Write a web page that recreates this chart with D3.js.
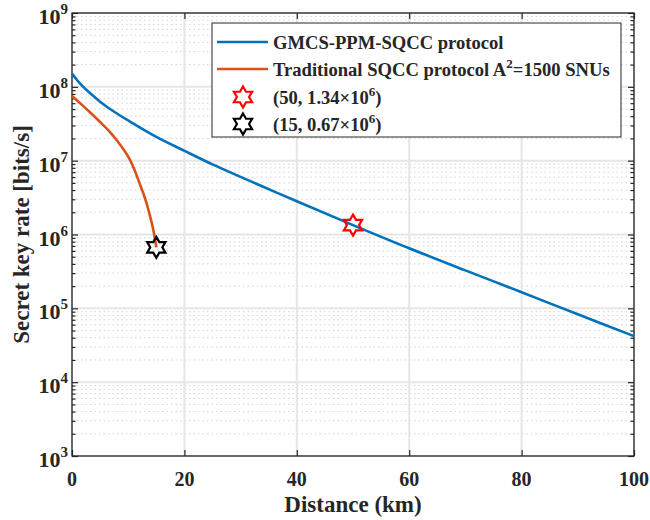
<!DOCTYPE html>
<html>
<head>
<meta charset="utf-8">
<script src="https://cdn.jsdelivr.net/npm/d3@7"></script>
<style>
  body { margin: 0; background: #fff; }
  svg text { font-family: "Liberation Serif", "Times New Roman", serif; font-weight: bold; fill: #262626; }
</style>
</head>
<body>
<div id="chart"></div>
<script>
// GMCS-PPM-SQCC protocol (blue)
var blueX = [0, 1, 2, 3, 5, 7.5, 10, 15, 20, 25, 30, 40, 50, 60, 70, 80, 90, 100];
var blueY = [1.51e8, 1.21e8, 1.0e8, 8.5e7, 6.3e7, 4.6e7, 3.5e7, 2.1e7, 1.36e7, 8.9e6, 6.03e6, 2.82e6, 1.34e6, 6.5e5, 3.27e5, 1.65e5, 8.3e4, 4.2e4];

// Traditional SQCC protocol (orange)
var redX = [0, 1.5, 3.2, 5, 6.8, 8, 9.4, 10.3, 11.2, 12, 12.7, 13.3, 13.9, 14.3, 14.5, 14.8, 15];
var redY = [7.52e7, 5.94e7, 4.52e7, 3.34e7, 2.42e7, 1.88e7, 1.34e7, 1.03e7, 7.24e6, 5.0e6, 3.59e6, 2.6e6, 1.76e6, 1.32e6, 1.12e6, 8.4e5, 6.7e5];

// marked points
var markX = [50, 15];
var markY = [1.34e6, 0.67e6];
var markColors = ["#ff0000", "#000000"];

var xTicks = [0, 20, 40, 60, 80, 100];
var yDecades = [3, 4, 5, 6, 7, 8, 9];

var legendLabels = ["GMCS-PPM-SQCC protocol", "Traditional SQCC protocol A", "(50, 1.34\u00d710", "(15, 0.67\u00d710"];

var width = 650, height = 520;
var margin = {top: 13, right: 16, bottom: 64, left: 72};

var svg = d3.select("#chart").append("svg")
    .attr("width", width)
    .attr("height", height);

var x = d3.scaleLinear().domain([0, 100]).range([margin.left, width - margin.right]);
var y = d3.scaleLog().domain([1e3, 1e9]).range([height - margin.bottom, margin.top]);

// minor values for log grid
var minorVals = [];
yDecades.slice(0, -1).forEach(function(e) {
    for (var k = 2; k <= 9; k++) minorVals.push(k * Math.pow(10, e));
});
var majorVals = yDecades.map(function(e) { return Math.pow(10, e); });

// minor grid (dotted)
svg.append("g").selectAll("line")
    .data(minorVals)
    .enter().append("line")
    .attr("x1", x(0)).attr("x2", x(100))
    .attr("y1", function(d) { return y(d); })
    .attr("y2", function(d) { return y(d); })
    .attr("stroke", "#d4d4d4")
    .attr("stroke-width", 1)
    .attr("stroke-dasharray", "1.5,3");

// major grid
svg.append("g").selectAll("line")
    .data(majorVals)
    .enter().append("line")
    .attr("x1", x(0)).attr("x2", x(100))
    .attr("y1", function(d) { return y(d); })
    .attr("y2", function(d) { return y(d); })
    .attr("stroke", "#e6e6e6")
    .attr("stroke-width", 2);

svg.append("g").selectAll("line")
    .data(xTicks)
    .enter().append("line")
    .attr("x1", function(d) { return x(d); })
    .attr("x2", function(d) { return x(d); })
    .attr("y1", y(1e3)).attr("y2", y(1e9))
    .attr("stroke", "#e6e6e6")
    .attr("stroke-width", 2);

// axes with inward ticks
var axisColor = "#262626";
function styleAxis(g) {
    g.select(".domain").remove();
    g.selectAll("line").attr("stroke", axisColor).attr("stroke-width", 1.2);
    g.selectAll("text").remove();
}

svg.append("g").attr("transform", "translate(0," + y(1e3) + ")")
    .call(d3.axisBottom(x).tickValues(xTicks).tickSize(-6)).call(styleAxis);
svg.append("g").attr("transform", "translate(0," + y(1e9) + ")")
    .call(d3.axisTop(x).tickValues(xTicks).tickSize(-6)).call(styleAxis);
svg.append("g").attr("transform", "translate(" + x(0) + ",0)")
    .call(d3.axisLeft(y).tickValues(majorVals).tickSize(-6)).call(styleAxis);
svg.append("g").attr("transform", "translate(" + x(0) + ",0)")
    .call(d3.axisLeft(y).tickValues(minorVals).tickSize(-3.5)).call(styleAxis);
svg.append("g").attr("transform", "translate(" + x(100) + ",0)")
    .call(d3.axisRight(y).tickValues(majorVals).tickSize(-6)).call(styleAxis);
svg.append("g").attr("transform", "translate(" + x(100) + ",0)")
    .call(d3.axisRight(y).tickValues(minorVals).tickSize(-3.5)).call(styleAxis);

// box
svg.append("rect")
    .attr("x", x(0)).attr("y", y(1e9))
    .attr("width", x(100) - x(0))
    .attr("height", y(1e3) - y(1e9))
    .attr("fill", "none")
    .attr("stroke", axisColor)
    .attr("stroke-width", 1.3);

// tick labels
svg.append("g").selectAll("text")
    .data(xTicks)
    .enter().append("text")
    .attr("x", function(d) { return x(d); })
    .attr("y", y(1e3) + 30)
    .attr("text-anchor", "middle")
    .style("font-size", "20px")
    .text(function(d) { return d; });

var yl = svg.append("g").selectAll("text")
    .data(yDecades)
    .enter().append("text")
    .attr("x", x(0) - 4)
    .attr("y", function(d) { return y(Math.pow(10, d)) + 11; })
    .attr("text-anchor", "end")
    .style("font-size", "22px");
yl.append("tspan").text("10");
yl.append("tspan").attr("dy", -10).style("font-size", "15px").text(function(d) { return d; });

// axis titles
svg.append("text")
    .attr("x", (x(0) + x(100)) / 2)
    .attr("y", 512)
    .attr("text-anchor", "middle")
    .style("font-size", "23px")
    .text("Distance (km)");

svg.append("text")
    .attr("transform", "translate(29," + ((y(1e3) + y(1e9)) / 2) + ") rotate(-90)")
    .attr("text-anchor", "middle")
    .style("font-size", "23px")
    .text("Secret key rate [bits/s]");

// curves
var line = d3.line()
    .x(function(d) { return x(d[0]); })
    .y(function(d) { return y(d[1]); })
    .curve(d3.curveCatmullRom.alpha(0.5));

svg.append("path")
    .datum(d3.zip(blueX, blueY))
    .attr("d", line)
    .attr("fill", "none")
    .attr("stroke", "#0072BD")
    .attr("stroke-width", 2.6);

svg.append("path")
    .datum(d3.zip(redX, redY))
    .attr("d", line)
    .attr("fill", "none")
    .attr("stroke", "#D95319")
    .attr("stroke-width", 2.6);

// hexagram marker
function hexagram(r) {
    var pts = [];
    var ri = r / Math.sqrt(3);
    for (var i = 0; i < 12; i++) {
        var a = -Math.PI / 2 + i * Math.PI / 6;
        var rr = (i % 2 === 0) ? r : ri;
        pts.push([rr * Math.cos(a), rr * Math.sin(a)]);
    }
    return "M" + pts.map(function(p) { return p[0].toFixed(2) + "," + p[1].toFixed(2); }).join("L") + "Z";
}

svg.append("g").selectAll("path")
    .data(d3.range(markX.length))
    .enter().append("path")
    .attr("transform", function(i) { return "translate(" + x(markX[i]) + "," + y(markY[i]) + ")"; })
    .attr("d", hexagram(10.5))
    .attr("fill", "none")
    .attr("stroke", function(i) { return markColors[i]; })
    .attr("stroke-width", 2.2);

// legend
var lg = svg.append("g");
lg.append("rect")
    .attr("x", 212).attr("y", 23)
    .attr("width", 409).attr("height", 114)
    .attr("fill", "#fff")
    .attr("stroke", axisColor)
    .attr("stroke-width", 1);

var rowY = [42, 69, 97, 124];
lg.append("line").attr("x1", 217).attr("x2", 268).attr("y1", rowY[0]).attr("y2", rowY[0])
    .attr("stroke", "#0072BD").attr("stroke-width", 2.6);
lg.append("line").attr("x1", 217).attr("x2", 268).attr("y1", rowY[1]).attr("y2", rowY[1])
    .attr("stroke", "#D95319").attr("stroke-width", 2.6);
[2, 3].forEach(function(r, i) {
    lg.append("path")
        .attr("transform", "translate(243," + rowY[r] + ")")
        .attr("d", hexagram(10.5))
        .attr("fill", "none")
        .attr("stroke", markColors[i])
        .attr("stroke-width", 2.2);
});

var lt = lg.selectAll("text.leg")
    .data(d3.range(4))
    .enter().append("text")
    .attr("class", "leg")
    .attr("x", 273)
    .attr("y", function(i) { return rowY[i] + 7; })
    .style("font-size", "18.6px");
lt.append("tspan").text(function(i) { return legendLabels[i]; });
lt.filter(function(i) { return i > 0; })
    .append("tspan").attr("dy", -8).style("font-size", "13px")
    .text(function(i) { return i === 1 ? "2" : "6"; });
lt.filter(function(i) { return i > 0; })
    .append("tspan").attr("dy", 8)
    .text(function(i) { return i === 1 ? "=1500 SNUs" : ")"; });
</script>
</body>
</html>
